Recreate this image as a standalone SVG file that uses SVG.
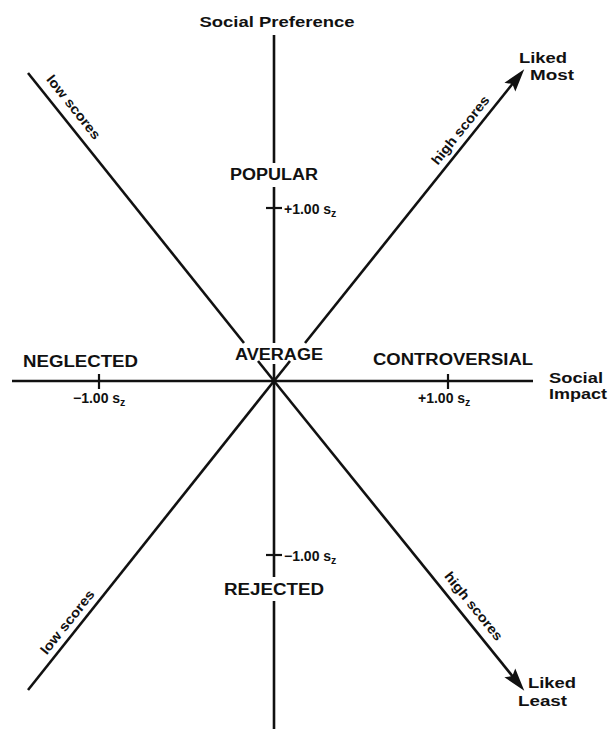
<svg xmlns="http://www.w3.org/2000/svg" width="609" height="729" viewBox="0 0 609 729">
  <style>
    .ax { stroke: #111; stroke-width: 2.6; fill: none; }
    .tk { stroke: #111; stroke-width: 2.2; }
    .lbl { font-family: "Liberation Sans", Arial, sans-serif; font-weight: bold; fill: #111; }
    .cat { font-size: 16px; }
    .axt { font-size: 14px; }
    .sc { font-size: 13.5px; }
    .val { font-size: 14px; }
    .sub { font-size: 10.5px; }
  </style>
  <defs>
    <marker id="head" markerUnits="userSpaceOnUse" markerWidth="24" markerHeight="16" refX="13" refY="8" orient="auto">
      <path d="M0,1 L23,8 L0,15 L4,8 z" fill="#111"/>
    </marker>
  </defs>
  <rect width="609" height="729" fill="#fff"/>

  <g id="connectors">
    <!-- vertical axis: Social Preference, broken around the labels -->
    <line class="ax" x1="274" y1="35" x2="274" y2="163"/>
    <line class="ax" x1="274" y1="187" x2="274" y2="343"/>
    <line class="ax" x1="274" y1="364" x2="274" y2="577"/>
    <line class="ax" x1="274" y1="601" x2="274" y2="729"/>
    <!-- horizontal axis: Social Impact -->
    <line class="ax" x1="12" y1="381" x2="533" y2="381" stroke-width="3"/>
    <!-- ticks at +/-1.00 sz -->
    <line class="tk" x1="99" y1="374" x2="99" y2="389"/>
    <line class="tk" x1="448" y1="374" x2="448" y2="389"/>
    <line class="tk" x1="266" y1="208" x2="282" y2="208"/>
    <line class="tk" x1="266" y1="555" x2="282" y2="555"/>
    <!-- low-scores diagonals -->
    <line class="ax" x1="28" y1="73" x2="244" y2="343"/>
    <line class="ax" x1="258" y1="361" x2="274" y2="381"/>
    <line class="ax" x1="274" y1="381" x2="28" y2="690"/>
    <!-- high-scores diagonals with arrowheads -->
    <line class="ax" x1="305" y1="343" x2="518" y2="77" marker-end="url(#head)"/>
    <line class="ax" x1="290" y1="361" x2="274" y2="381"/>
    <line class="ax" x1="274" y1="381" x2="518" y2="683" marker-end="url(#head)"/>
  </g>

  <g id="axis-social-preference">
    <text class="lbl axt" x="277" y="27" text-anchor="middle" textLength="155" lengthAdjust="spacingAndGlyphs">Social Preference</text>
  </g>
  <g id="axis-social-impact">
    <text class="lbl axt" x="549" y="383" textLength="54" lengthAdjust="spacingAndGlyphs">Social</text>
    <text class="lbl axt" x="549" y="399" textLength="58" lengthAdjust="spacingAndGlyphs">Impact</text>
  </g>
  <g id="liked-most">
    <text class="lbl axt" x="519" y="63" textLength="48" lengthAdjust="spacingAndGlyphs">Liked</text>
    <text class="lbl axt" x="530" y="80" textLength="44" lengthAdjust="spacingAndGlyphs">Most</text>
  </g>
  <g id="liked-least">
    <text class="lbl axt" x="528" y="688" textLength="48" lengthAdjust="spacingAndGlyphs">Liked</text>
    <text class="lbl axt" x="518" y="706" textLength="49" lengthAdjust="spacingAndGlyphs">Least</text>
  </g>

  <g id="popular">
    <text class="lbl cat" x="274" y="180" text-anchor="middle" textLength="88" lengthAdjust="spacingAndGlyphs">POPULAR</text>
  </g>
  <g id="neglected">
    <text class="lbl cat" x="23" y="367" textLength="115" lengthAdjust="spacingAndGlyphs">NEGLECTED</text>
  </g>
  <g id="average">
    <text class="lbl cat" x="235" y="360" textLength="88" lengthAdjust="spacingAndGlyphs">AVERAGE</text>
  </g>
  <g id="controversial">
    <text class="lbl cat" x="373" y="365" textLength="160" lengthAdjust="spacingAndGlyphs">CONTROVERSIAL</text>
  </g>
  <g id="rejected">
    <text class="lbl cat" x="224" y="595" textLength="100" lengthAdjust="spacingAndGlyphs">REJECTED</text>
  </g>

  <g id="scale-values">
    <text class="lbl val" x="284" y="214">+1.00 s<tspan class="sub" dy="3">z</tspan></text>
    <text class="lbl val" x="284" y="561">−1.00 s<tspan class="sub" dy="3">z</tspan></text>
    <text class="lbl val" x="73" y="403">−1.00 s<tspan class="sub" dy="3">z</tspan></text>
    <text class="lbl val" x="418" y="403">+1.00 s<tspan class="sub" dy="3">z</tspan></text>
  </g>

  <g id="score-labels">
    <text class="lbl sc" text-anchor="middle" textLength="78" lengthAdjust="spacingAndGlyphs" transform="translate(70,110) rotate(51.4)">low scores</text>
    <text class="lbl sc" text-anchor="middle" textLength="84" lengthAdjust="spacingAndGlyphs" transform="translate(464,133) rotate(-51.3)">high scores</text>
    <text class="lbl sc" text-anchor="middle" textLength="78" lengthAdjust="spacingAndGlyphs" transform="translate(71,625) rotate(-51.5)">low scores</text>
    <text class="lbl sc" text-anchor="middle" textLength="84" lengthAdjust="spacingAndGlyphs" transform="translate(470,609) rotate(51.1)">high scores</text>
  </g>
</svg>
